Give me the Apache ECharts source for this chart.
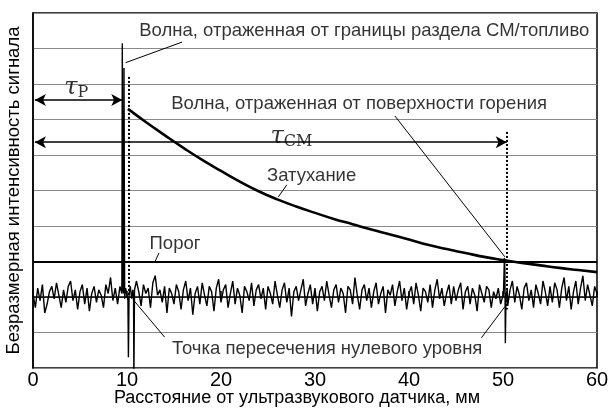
<!DOCTYPE html>
<html>
<head>
<meta charset="utf-8">
<script src="https://cdn.jsdelivr.net/npm/echarts@6/dist/echarts.min.js"></script>
<style>
  html, body { margin: 0; padding: 0; background: #fff; }
  #chart { width: 610px; height: 411px; }
</style>
</head>
<body>
<div id="chart"></div>
<script>
// noisy baseline, one reading every 0.25 mm from 0 to 60 mm
const noiseStep = 0.25
const noise = [
  0.1, -0.3, 0.25, -0.1, 0.35, -0.45, -0.2, 0.15, 0.3, -0.05, 0.4, 0.05, -0.3, 0.2, -0.15, 0.3, 0.45, -0.1, 0.2, -0.35,
  0.15, 0.35, -0.2, 0.25, -0.4, 0.1, 0.3, -0.15, 0.2, 0.05, -0.3, 0.35, 0.1, 0.55, -0.1, 0.25, -0.2, 0.3, 0.1, -0.05,
  0.2, -0.1, 0.3, 0.05, 0.45, 0.15, -0.25, 0.35, 0.1, 0.25, -0.3, 0.4, 0.6, 0.05, 0.2, -0.15, 0.3, -0.45, 0.25, 0.1,
  -0.2, 0.35, 0.15, -0.35, 0.2, 0.45, -0.1, 0.25, -0.5, 0.1, 0.3, -0.2, 0.4, 0.05, -0.25, 0.3, 0.15, -0.4, 0.25, 0.5,
  -0.15, 0.2, 0.35, -0.3, 0.1, 0.45, -0.2, 0.25, 0.05, -0.45, 0.3, 0.15, -0.1, 0.4, -0.25, 0.2, 0.35, -0.05, 0.25, -0.35,
  0.3, 0.1, -0.2, 0.45, 0.05, -0.3, 0.2, 0.4, -0.15, 0.25, -0.55, 0.15, 0.3, -0.1, 0.2, 0.5, -0.25, 0.1, 0.35, -0.2,
  0.25, -0.4, 0.15, 0.3, -0.1, 0.45, 0.05, -0.3, 0.2, 0.35, -0.15, 0.25, 0.1, -0.45, 0.3, 0.2, -0.2, 0.55, 0.05, -0.35,
  0.2, 0.35, -0.1, 0.25, -0.3, 0.15, 0.4, -0.2, 0.1, 0.3, -0.45, 0.2, 0.05, 0.35, -0.25, 0.15, 0.45, -0.1, 0.25, -0.35,
  0.1, 0.3, -0.2, 0.4, 0.05, -0.4, 0.25, 0.15, -0.15, 0.35, -0.3, 0.2, 0.5, -0.05, 0.25, -0.25, 0.1, 0.35, -0.2, 0.3,
  -0.1, 0.2, 0.4, -0.35, 0.15, 0.3, -0.2, 0.25, 0.05, -0.4, 0.35, 0.1, -0.15, 0.3, 0.2, -0.3, 0.15, -0.05, 0.25, -0.2,
  0.1, 0.3, -0.25, 0.2, 0.45, -0.15, 0.3, 0.05, -0.35, 0.25, 0.4, -0.1, 0.2, -0.3, 0.35, 0.1, -0.2, 0.45, 0.15, -0.25,
  0.3, -0.15, 0.4, 0.2, -0.3, 0.25, 0.55, -0.1, 0.3, -0.35, 0.15, 0.45, -0.2, 0.25, 0.6, -0.1, 0.35, 0.05, -0.25, 0.3,
  0.1
]
// reflected pulses [mm, value]
const echoNear = [
  [9.45, 0.1], [9.5, 7.15], [9.56, 0.3], [9.63, 0.1], [9.68, 6.45], [9.75, -0.05], [9.85, 0.25],
  [10.0, 0.05], [10.1, -0.1], [10.15, -1.7], [10.22, 0.1], [10.35, 0.3], [10.5, -0.05], [10.62, 0.2],
  [10.7, -0.05], [10.73, -2.4], [10.8, 0.2]
]
const echoFar = [[50.05, 0.1], [50.15, 1.1], [50.2, 0.8], [50.25, -1.3], [50.32, 0.05], [50.45, 0.2]]

// attenuation envelope
const decayX = [10.1, 12, 14, 16, 18, 20, 22, 24, 26, 28, 30, 32, 34, 36, 38, 40, 42, 44, 46, 48, 50, 52, 54, 56, 58, 60]
const decayY = [5.3, 4.93, 4.56, 4.2, 3.86, 3.55, 3.25, 2.98, 2.75, 2.55, 2.37, 2.2, 2.05, 1.9, 1.76, 1.62, 1.47, 1.35, 1.24, 1.13, 1.04, 0.96, 0.89, 0.82, 0.76, 0.7]

const threshold = 1.0
const xTicks = [0, 10, 20, 30, 40, 50, 60]
const yMin = -2
const yMax = 8

// time-of-flight markers
const tauP = { from: 0.2, to: 9.5, y: 5.55 }
const tauCM = { from: 0.2, to: 50.4, y: 4.36 }
const dotted = [
  [[10.2, 6.2], [10.2, 0]],
  [[50.4, 4.65], [50.4, -0.35]]
]

const notes = [
  { text: 'Волна, отраженная от границы раздела СМ/топливо', x: 11.3, y: 7.5 },
  { text: 'Волна, отраженная от поверхности горения', x: 14.7, y: 5.44 },
  { text: 'Затухание', x: 24.9, y: 3.41 },
  { text: 'Порог', x: 12.4, y: 1.49 },
  { text: 'Точка пересечения нулевого уровня', x: 14.8, y: -1.46 }
]
const leaders = [
  [[15.85, 7.18], [9.85, 6.6]],
  [[38.5, 5.1], [50.2, 1.13]],
  [[27.0, 3.16], [26.1, 2.82]],
  [[13.4, 1.24], [13.0, 1.01]],
  [[14.0, -1.13], [10.67, -0.08]],
  [[47.7, -1.15], [50.2, -0.27]]
]
const tauLabels = [
  { name: 'P', x: 4.6, y: 5.89 },
  { name: 'CM', x: 27.5, y: 4.5 }
]

const inRange = (x, a, b) => x > a && x < b
const signal = noise
  .map((v, i) => [i * noiseStep, v])
  .filter(([x]) => !inRange(x, 9.35, 10.9) && !inRange(x, 49.95, 50.5))
  .concat(echoNear, echoFar)
  .sort((a, b) => a[0] - b[0])

const chart = echarts.init(document.getElementById('chart'))
const font = '"Liberation Sans", Arial, sans-serif'

chart.setOption({
  animation: false,
  textStyle: { fontFamily: font },
  grid: {
    left: 33, right: 13, top: 13, bottom: 43,
    outerBoundsMode: 'none',
    show: true, borderColor: '#000', borderWidth: 1.5
  },
  xAxis: {
    type: 'value',
    min: 0,
    max: 60,
    interval: 10,
    name: 'Расстояние от ультразвукового датчика, мм',
    nameLocation: 'middle',
    nameGap: 21,
    nameMoveOverlap: false,
    nameTextStyle: { fontSize: 18, color: '#000', fontFamily: font, padding: [0, 36, 0, 0] },
    axisLine: { show: true, lineStyle: { color: '#000', width: 1.5 } },
    axisTick: { show: true, inside: true, length: 6, lineStyle: { color: '#000', width: 1.5 } },
    axisLabel: { fontSize: 20, color: '#000', margin: 2, fontFamily: font,
      customValues: xTicks },
    splitLine: { show: false }
  },
  yAxis: {
    type: 'value',
    min: yMin,
    max: yMax,
    interval: 1,
    name: 'Безразмерная интенсивность сигнала',
    nameLocation: 'middle',
    nameGap: 10,
    nameMoveOverlap: false,
    nameTextStyle: { fontSize: 18.5, color: '#000', fontFamily: font },
    axisLine: { show: true, lineStyle: { color: '#000', width: 1.5 } },
    axisTick: { show: false },
    axisLabel: { show: false },
    splitLine: { show: true, lineStyle: { color: '#8a8a8a', width: 1 } }
  },
  series: [
    {
      name: 'signal',
      type: 'line',
      data: signal,
      showSymbol: false,
      clip: true,
      lineStyle: { color: '#000', width: 1.4 },
      markLine: {
        silent: true,
        symbol: 'none',
        label: { show: false },
        lineStyle: { color: '#000', width: 2, type: 'solid' },
        data: [{ yAxis: threshold }]
      }
    },
    {
      name: 'decay',
      type: 'line',
      data: decayX.map((x, i) => [x, decayY[i]]),
      smooth: true,
      showSymbol: false,
      lineStyle: { color: '#000', width: 2.6 }
    },
    {
      name: 'markers',
      type: 'line',
      data: [],
      markLine: {
        silent: true,
        label: { show: false },
        symbol: 'none',
        data: [
          ...dotted.map(([a, b]) => [
            { coord: a, lineStyle: { color: '#000', width: 2, type: [2, 2] } },
            { coord: b }
          ]),
          ...leaders.map(([a, b]) => [
            { coord: a, lineStyle: { color: '#000', width: 1, type: 'solid' } },
            { coord: b }
          ])
        ]
      }
    },
    {
      name: 'arrows',
      type: 'line',
      data: [],
      markLine: {
        silent: true,
        label: { show: false },
        symbol: ['arrow', 'arrow'],
        symbolSize: [9, 11],
        lineStyle: { color: '#000', width: 1.5, type: 'solid' },
        data: [tauP, tauCM].map(t => [{ coord: [t.from, t.y] }, { coord: [t.to, t.y] }])
      }
    },
    {
      name: 'notes',
      type: 'scatter',
      symbolSize: 0,
      silent: true,
      data: notes.map(n => ({ value: [n.x, n.y], name: n.text })),
      label: {
        show: true,
        position: 'right',
        distance: 0,
        formatter: '{b}',
        color: '#000',
        fontSize: 18.5,
        fontFamily: font
      }
    },
    {
      name: 'tau',
      type: 'scatter',
      symbolSize: 0,
      silent: true,
      data: tauLabels.map(t => ({ value: [t.x, t.y], name: t.name })),
      label: {
        show: true,
        position: 'inside',
        formatter: p => '{t|τ}{s|' + p.name + '}',
        rich: {
          t: { fontFamily: '"DejaVu Serif", serif', fontStyle: 'italic', fontSize: 24, color: '#000' },
          s: { fontFamily: '"DejaVu Serif", serif', fontSize: 16, color: '#000', padding: [10, 0, 0, 0] }
        }
      }
    }
  ]
})
</script>
</body>
</html>
